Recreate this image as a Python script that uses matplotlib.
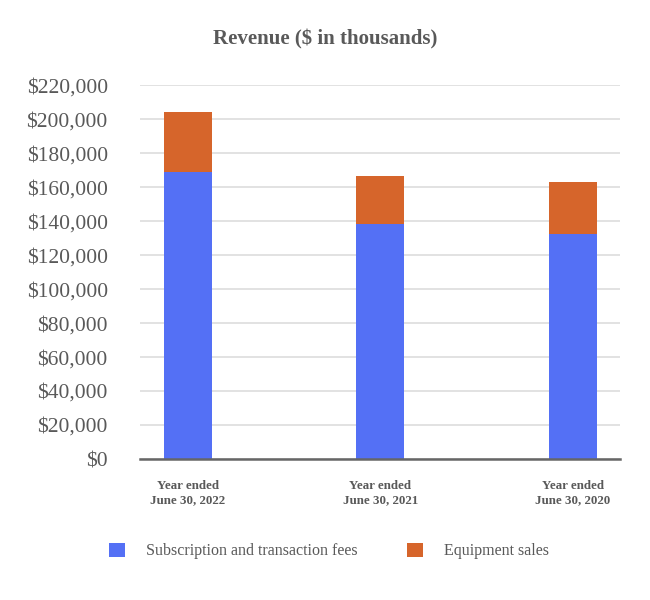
import numpy as np
import matplotlib.pyplot as plt

plt.rcParams['font.family'] = ['Liberation Serif', 'DejaVu Serif']

categories = ['Year ended\nJune 30, 2022', 'Year ended\nJune 30, 2021', 'Year ended\nJune 30, 2020']
subscription = [168800, 138300, 132400]
equipment = [35300, 28200, 30500]
series_names = ['Subscription and transaction fees', 'Equipment sales']
yticks = np.arange(0, 220001, 20000)

blue = '#5470F5'
orange = '#D6652B'
grey = '#595959'

fig = plt.figure(figsize=(6.5, 6), dpi=100)
ax = fig.add_axes([0.215, 0.235, 0.739, 0.623])

x = np.arange(len(categories))
ax.bar(x, subscription, width=0.25, color=blue, label=series_names[0], zorder=3)
ax.bar(x, equipment, width=0.25, bottom=subscription, color=orange, label=series_names[1], zorder=3)

ax.set_xlim(-0.25, 2.245)
ax.set_ylim(0, 220000)
ax.set_yticks(yticks)
ax.set_yticklabels([f'${v:,.0f}' for v in yticks], fontsize=15.5, color=grey)
ax.set_xticks(x)
ax.set_xticklabels(categories, fontsize=9.4, fontweight='bold', color=grey, linespacing=1.25)
ax.tick_params(axis='both', length=0)
ax.tick_params(axis='x', pad=15)
ax.tick_params(axis='y', pad=23)

ax.grid(axis='y', color='#e2e2e2', linewidth=1.4, zorder=0)
for s in ['top', 'right', 'left']:
    ax.spines[s].set_visible(False)
ax.spines['bottom'].set_color('#666666')
ax.spines['bottom'].set_linewidth(1.8)
ax.spines['bottom'].set_zorder(4)

fig.text(0.5, 1 - 39 / 600, 'Revenue ($ in thousands)', ha='center', va='center',
         fontsize=15, fontweight='bold', color=grey)

fig.legend(loc='center', bbox_to_anchor=(0.506, 1 - 551 / 600), ncol=2, frameon=False,
           handlelength=1.0, handleheight=1.0, handletextpad=1.3, columnspacing=3.1,
           fontsize=11.5, labelcolor=grey)

fig.savefig('out.png', dpi=100)
